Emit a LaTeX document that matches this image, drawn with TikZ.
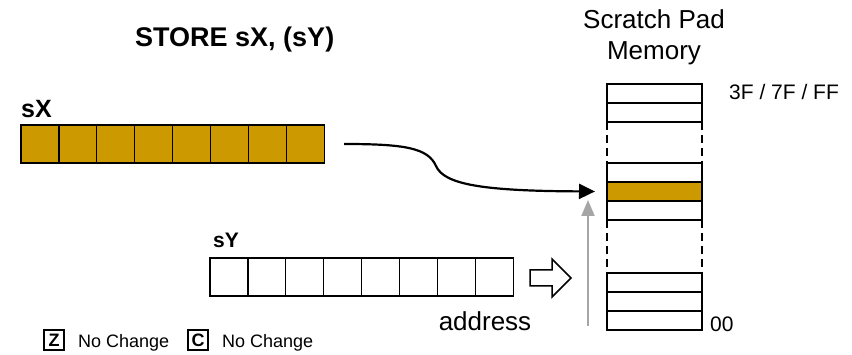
\documentclass[tikz,border=0pt]{standalone}
\usepackage{fontspec}
\setmainfont{Liberation Sans}
\usetikzlibrary{arrows.meta}
\definecolor{regfill}{HTML}{CC9900}
\definecolor{addrgray}{HTML}{A6A6A6}
\tikzset{
  regcell/.style={draw=black,line width=1.3pt,minimum width=37.9pt,minimum height=38pt,inner sep=0pt,outer sep=0pt},
  memcell/.style={draw=black,line width=1.4pt,minimum width=95pt,minimum height=19pt,inner sep=0pt,outer sep=0pt},
  flagbox/.style={draw=black,line width=1.3pt,minimum width=20pt,minimum height=20pt,inner sep=0pt,font=\bfseries\fontsize{18}{18}\selectfont},
  lbl/.style={inner sep=0pt,font=\fontsize{#1}{#1}\selectfont},
  blbl/.style={inner sep=0pt,font=\bfseries\fontsize{#1}{#1}\selectfont}
}
\begin{document}
\begin{tikzpicture}[x=1pt,y=-1pt]
\useasboundingbox (0,0) rectangle (852,355);
% title
\node[blbl=27,anchor=base west] (title) at (135,47) {STORE sX, (sY)};
% registers
\node[blbl=25,anchor=base west] (sxlbl) at (21,118) {sX};
\foreach \i in {0,...,7}
  \node[regcell,fill=regfill] (x\i) at ({21+18.95+37.9*\i},144) {};
\node[blbl=21,anchor=base west] (sylbl) at (213,248) {sY};
\foreach \i in {0,...,7}
  \node[regcell] (y\i) at ({210+18.95+37.9*\i},277) {};
% scratch pad
\node[align=center,font=\fontsize{26}{31}\selectfont,inner sep=0pt,anchor=base] (sptitle) at (654,60) {Scratch Pad\\Memory};
\node[memcell] (t1) at (654.5,93.5) {};
\node[memcell] (t2) at (654.5,112.5) {};
\node[memcell] (c1) at (654.5,172.5) {};
\node[memcell,fill=regfill] (c2) at (654.5,191.5) {};
\node[memcell] (c3) at (654.5,210.5) {};
\node[memcell] (b1) at (654.5,282.5) {};
\node[memcell] (b2) at (654.5,301.5) {};
\node[memcell] (b3) at (654.5,320.5) {};
\draw[dashed,line width=1.4pt,dash pattern=on 8pt off 5pt] (t2.south west) -- (c1.north west) (t2.south east) -- (c1.north east)
  (c3.south west) -- (b1.north west) (c3.south east) -- (b1.north east);
\node[lbl=21,anchor=base west] (toplbl) at (729,100) {3F / 7F / FF};
\node[lbl=21,anchor=base west] (botlbl) at (710,332) {00};
% data path
\coordinate (bend) at (436,166);
\draw[line width=2.2pt,-{Triangle[length=16pt,width=15pt]},shorten >=12pt]
  ([xshift=20pt]x7.east) .. controls (405,144) and (428,148) .. (bend)
  .. controls (444,184) and (480,191) .. (c2.west);
% address path
\draw[line width=1.5pt,fill=white,line join=miter] (530,270) -- (552,270) -- (552,259) -- (571,278) -- (552,297) -- (552,286) -- (530,286) -- cycle;
\node[lbl=26,anchor=base] (addr) at (485,331) {address};
\coordinate (abot) at (588,326);
\coordinate (atop) at (588,200);
\draw[addrgray,line width=2pt,-{Triangle[length=16pt,width=13pt]}] (abot) -- (atop);
% flags
\node[flagbox] (zf) at (54,340) {Z};
\node[lbl=18,anchor=base west] (zlbl) at (78,348) {No Change};
\node[flagbox] (cf) at (198,340) {C};
\node[lbl=18,anchor=base west] (clbl) at (222,348) {No Change};
\end{tikzpicture}
\end{document}
